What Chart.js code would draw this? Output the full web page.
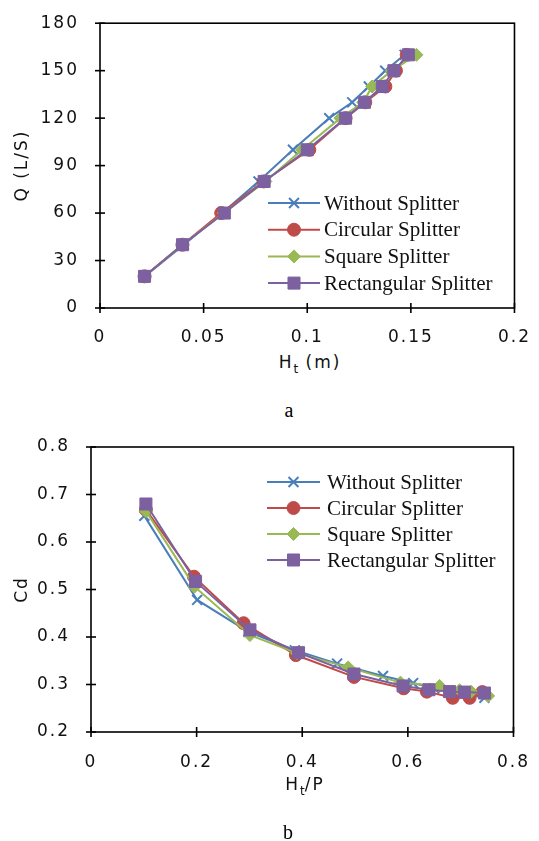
<!DOCTYPE html>
<html>
<head>
<meta charset="utf-8">
<script src="https://cdn.jsdelivr.net/npm/chart.js@4.4.1/dist/chart.umd.min.js"></script>
<style>
body { margin: 0; background: #fff; }
#wrap { position: relative; width: 539px; height: 841px; overflow: hidden; }
canvas { position: absolute; left: 0; }
.lbl { position: absolute; font-family: 'DejaVu Sans'; font-size: 17px; letter-spacing: 2px; color: #111; transform: translate(-50%, -50%); white-space: nowrap; }
.lbl sub { font-size: 12px; letter-spacing: 0; }
.cap { position: absolute; font-family: 'Liberation Serif'; font-size: 20px; color: #000; transform: translate(-50%, -50%); }
</style>
</head>
<body>
<div id="wrap">
  <canvas id="graficoA" width="539" height="350" style="top:0;width:539px;height:350px"></canvas>
  <div class="lbl" style="left:310px;top:364px">H<sub>t</sub> (m)</div>
  <div class="cap" style="left:289px;top:410px">a</div>
  <canvas id="graficoB" width="539" height="360" style="top:420px;width:539px;height:360px"></canvas>
  <div class="lbl" style="left:305px;top:786px">H<sub>t</sub>/P</div>
  <div class="cap" style="left:288px;top:832px">b</div>
</div>
<script>
// series
var series = ['Without Splitter', 'Circular Splitter', 'Square Splitter', 'Rectangular Splitter'];
var colores = ['#4a7ebb', '#be4b48', '#98b954', '#7d60a0'];
var marcadores = ['crossRot', 'circle', 'rectRot', 'rect'];
var radios = [7, 6.5, 6.5, 8.5];

// grafico a: Q (L/S) vs Ht (m)
var caudal = [20, 40, 60, 80, 100, 120, 130, 140, 150, 160];
var htSin = [0.0215, 0.0405, 0.059, 0.0765, 0.0931, 0.1106, 0.1217, 0.1297, 0.1376, 0.147];
var htCircular = [0.0215, 0.0398, 0.0585, 0.079, 0.101, 0.1185, 0.128, 0.1377, 0.1428, 0.148];
var htCuadrado = [0.0215, 0.0398, 0.0597, 0.0798, 0.0975, 0.116, 0.127, 0.1313, 0.1408, 0.1527];
var htRectangular = [0.0215, 0.0398, 0.06, 0.0792, 0.1, 0.1185, 0.1276, 0.1362, 0.1418, 0.1488];

// grafico b: Cd vs Ht/P
var relSin = [0.101, 0.201, 0.298, 0.386, 0.466, 0.553, 0.61, 0.65, 0.69, 0.745];
var cdSin = [0.655, 0.478, 0.411, 0.372, 0.344, 0.318, 0.303, 0.292, 0.284, 0.272];
var relCircular = [0.104, 0.195, 0.289, 0.388, 0.498, 0.592, 0.636, 0.685, 0.717, 0.741];
var cdCircular = [0.668, 0.527, 0.429, 0.362, 0.316, 0.292, 0.285, 0.272, 0.272, 0.284];
var relCuadrado = [0.104, 0.196, 0.301, 0.39, 0.487, 0.586, 0.66, 0.698, 0.72, 0.752];
var cdCuadrado = [0.665, 0.506, 0.404, 0.366, 0.336, 0.304, 0.297, 0.288, 0.285, 0.276];
var relRectangular = [0.104, 0.198, 0.301, 0.393, 0.498, 0.591, 0.64, 0.679, 0.707, 0.745];
var cdRectangular = [0.68, 0.517, 0.415, 0.367, 0.322, 0.297, 0.289, 0.285, 0.284, 0.282];

function puntos(xs, ys) {
    return xs.map(function(x, i) { return { x: x, y: ys[i] }; });
}

function armarDatasets(listas) {
    return listas.map(function(datos, i) {
        return {
            label: series[i],
            data: datos,
            showLine: true,
            borderColor: colores[i],
            backgroundColor: colores[i],
            borderWidth: 2,
            pointStyle: marcadores[i],
            pointRadius: radios[i],
            pointHoverRadius: radios[i],
            pointBorderWidth: i === 0 ? 2 : 1,
            pointBorderColor: colores[i],
            pointBackgroundColor: colores[i],
            order: 4 - i
        };
    });
}

// espaciado de letras como en la figura original
var espaciado = {
    id: 'espaciado',
    beforeDraw: function(chart) { chart.ctx.letterSpacing = '2px'; }
};

// marco negro y marcas que cruzan los ejes
var marco = {
    id: 'marco',
    afterDraw: function(chart) {
        var ctx = chart.ctx, a = chart.chartArea;
        ctx.save();
        ctx.strokeStyle = '#000';
        ctx.lineWidth = 1.6;
        ctx.strokeRect(a.left, a.top, a.right - a.left, a.bottom - a.top);
        chart.scales.x.ticks.forEach(function(t) {
            var px = chart.scales.x.getPixelForValue(t.value);
            ctx.beginPath(); ctx.moveTo(px, a.bottom - 5); ctx.lineTo(px, a.bottom + 5); ctx.stroke();
        });
        chart.scales.y.ticks.forEach(function(t) {
            var py = chart.scales.y.getPixelForValue(t.value);
            ctx.beginPath(); ctx.moveTo(a.left - 5, py); ctx.lineTo(a.left + 5, py); ctx.stroke();
        });
        ctx.restore();
    }
};

// leyenda dentro del area del grafico
var leyenda = {
    id: 'leyenda',
    afterDraw: function(chart, args, opts) {
        var ctx = chart.ctx;
        ctx.save();
        ctx.letterSpacing = '0px';
        ctx.font = '21px "Liberation Serif"';
        ctx.textBaseline = 'middle';
        ctx.textAlign = 'left';
        series.forEach(function(nombre, i) {
            var y = opts.y + i * opts.paso;
            ctx.strokeStyle = colores[i];
            ctx.fillStyle = colores[i];
            ctx.lineWidth = 2;
            ctx.beginPath(); ctx.moveTo(opts.x1, y); ctx.lineTo(opts.x2, y); ctx.stroke();
            ctx.lineWidth = i === 0 ? 2 : 1;
            Chart.helpers.drawPoint(ctx, { pointStyle: marcadores[i], radius: radios[i], borderWidth: i === 0 ? 2 : 1, rotation: 0 }, (opts.x1 + opts.x2) / 2, y);
            ctx.fillStyle = '#111';
            ctx.fillText(nombre, opts.xt, y + 1);
        });
        ctx.restore();
    }
};

var fuenteEje = { family: 'DejaVu Sans', size: 17 };

function opciones(cfg) {
    return {
        responsive: false,
        animation: false,
        layout: { padding: { left: 0, right: cfg.derecha, top: cfg.arriba, bottom: 0 } },
        plugins: {
            legend: { display: false },
            tooltip: { enabled: false },
            leyenda: cfg.leyenda
        },
        scales: {
            x: {
                type: 'linear',
                min: cfg.xMin, max: cfg.xMax,
                ticks: { stepSize: cfg.xPaso, color: '#111', font: fuenteEje, padding: cfg.xPad,
                    callback: function(v) { return String(+v.toFixed(2)); } },
                grid: { display: false },
                border: { display: false },
                afterFit: function(s) { s.height = cfg.altoX; }
            },
            y: {
                min: cfg.yMin, max: cfg.yMax,
                ticks: { stepSize: cfg.yPaso, color: '#111', font: fuenteEje, padding: 13,
                    callback: cfg.yFormato },
                grid: { display: false },
                border: { display: false },
                title: { display: true, text: cfg.yTitulo, color: '#111', font: fuenteEje, padding: { top: 12 } },
                afterFit: function(s) { s.width = cfg.anchoY; }
            }
        }
    };
}

new Chart(document.getElementById('graficoA'), {
    type: 'scatter',
    data: {
        datasets: armarDatasets([
            puntos(htSin, caudal),
            puntos(htCircular, caudal),
            puntos(htCuadrado, caudal),
            puntos(htRectangular, caudal)
        ])
    },
    options: opciones({
        derecha: 20, arriba: 23, altoX: 42, anchoY: 100, xPad: 11,
        xMin: 0, xMax: 0.2, xPaso: 0.05, yMin: 0, yMax: 180, yPaso: 30,
        yTitulo: 'Q (L/S)',
        yFormato: function(v) { return String(v); },
        leyenda: { x1: 268, x2: 320, xt: 324, y: 203, paso: 26.7 }
    }),
    plugins: [espaciado, marco, leyenda]
});

new Chart(document.getElementById('graficoB'), {
    type: 'scatter',
    data: {
        datasets: armarDatasets([
            puntos(relSin, cdSin),
            puntos(relCircular, cdCircular),
            puntos(relCuadrado, cdCuadrado),
            puntos(relRectangular, cdRectangular)
        ])
    },
    options: opciones({
        derecha: 21, arriba: 27, altoX: 48, anchoY: 91, xPad: 12,
        xMin: 0, xMax: 0.8, xPaso: 0.2, yMin: 0.2, yMax: 0.8, yPaso: 0.1,
        yTitulo: 'Cd',
        yFormato: function(v) { return v.toFixed(1); },
        leyenda: { x1: 267, x2: 320, xt: 327, y: 62, paso: 26 }
    }),
    plugins: [espaciado, marco, leyenda]
});
</script>
</body>
</html>
